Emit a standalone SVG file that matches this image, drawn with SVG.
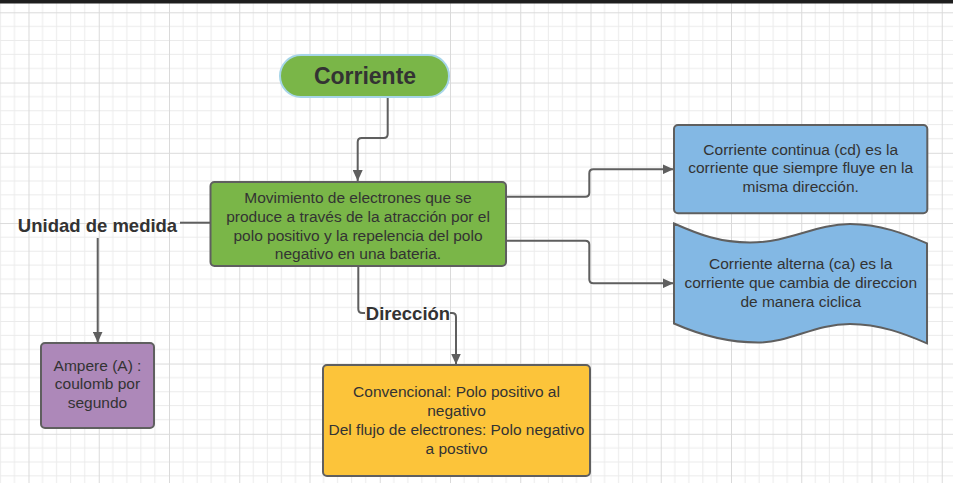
<svg xmlns="http://www.w3.org/2000/svg" width="953" height="483" viewBox="0 0 953 483">
<defs>
<pattern id="grid" patternUnits="userSpaceOnUse" x="28.5" y="12.3" width="70.25" height="70.25">
<path d="M14.05,0V70.25M28.1,0V70.25M42.15,0V70.25M56.2,0V70.25M0,14.05H70.25M0,28.1H70.25M0,42.15H70.25M0,56.2H70.25" stroke="#ebebeb" stroke-width="1" fill="none"/>
<path d="M0.5,0V70.25M0,0.5H70.25" stroke="#dadada" stroke-width="1" fill="none"/>
</pattern>
<marker id="arr" markerUnits="userSpaceOnUse" markerWidth="12" markerHeight="10" refX="11" refY="5" orient="auto">
<path d="M0,0L11,5L0,10Z" fill="#5f5f5f"/>
</marker>
<style>
.box{stroke:#5f5f5f;stroke-width:2}
.t{font-family:"Liberation Sans",Arial,sans-serif;font-size:15.5px;fill:#333333;text-anchor:middle}
.lbl{font-family:"Liberation Sans",Arial,sans-serif;font-size:18.5px;font-weight:bold;fill:#333333;text-anchor:middle}
.c{fill:none;stroke:#5f5f5f;stroke-width:2}
</style>
</defs>
<rect x="0" y="0" width="953" height="483" fill="#ffffff"/>
<rect x="0" y="0" width="953" height="483" fill="url(#grid)"/>
<rect x="0" y="0" width="953" height="3.5" fill="#1e1e1e"/>

<g id="connectors">
<path class="c" d="M387.7,97V134Q387.7,138 383.7,138H361.7Q357.7,138 357.7,142V181" marker-end="url(#arr)"/>
<path class="c" d="M506,196.7H585.3Q589.3,196.7 589.3,192.7V173.3Q589.3,169.3 593.3,169.3H673.5" marker-end="url(#arr)"/>
<path class="c" d="M506,240.7H585.3Q589.3,240.7 589.3,244.7V279.3Q589.3,283.3 593.3,283.3H673.5" marker-end="url(#arr)"/>
<path class="c" d="M210,222.7H180"/>
<path class="c" d="M97.7,238V342.5" marker-end="url(#arr)"/>
<path class="c" d="M358.3,266V309Q358.3,313 362.3,313H365"/>
<path class="c" d="M450,313H452Q456,313 456,317V364.5" marker-end="url(#arr)"/>
<text class="lbl" x="97.5" y="231.5">Unidad de medida</text>
<text class="lbl" x="408" y="320">Dirección</text>
</g>

<g id="corriente">
<rect x="280" y="55" width="169" height="42" rx="21" fill="#7ab648" stroke="#a6d5e8" stroke-width="2"/>
<text x="365" y="83.5" font-family="Liberation Sans, Arial, sans-serif" font-size="23" font-weight="bold" fill="#333333" text-anchor="middle">Corriente</text>
</g>

<g id="movimiento">
<rect class="box" x="210.5" y="182" width="295.5" height="84" rx="4" fill="#7ab648"/>
<text class="t" x="358" y="203">Movimiento de electrones que se</text>
<text class="t" x="358" y="221.8">produce a través de la atracción por el</text>
<text class="t" x="358" y="240.5">polo positivo y la repelencia del polo</text>
<text class="t" x="358" y="259">negativo en una bateria.</text>
</g>

<g id="continua">
<rect class="box" x="674" y="125" width="253.3" height="88.3" rx="4" fill="#83b8e4"/>
<text class="t" x="800.7" y="154.5">Corriente continua (cd) es la</text>
<text class="t" x="800.7" y="173">corriente que siempre fluye en la</text>
<text class="t" x="800.7" y="191.5">misma dirección.</text>
</g>

<g id="alterna">
<path class="box" fill="#83b8e4" d="M674,223.5C700,235 720,242.5 750,242.5C790,242.5 815,224 850,224C880,224 905,234 927,243.3V343.3C905,334 880,324 850,324C815,324 790,342.5 758,342.5C728,342.5 700,335 674,323.5Z"/>
<text class="t" x="800.7" y="269">Corriente alterna (ca) es la</text>
<text class="t" x="800.7" y="288.3">corriente que cambia de direccion</text>
<text class="t" x="800.7" y="307">de manera ciclica</text>
</g>

<g id="ampere">
<rect class="box" x="41" y="343" width="113" height="85" rx="4" fill="#ad88b9"/>
<text class="t" x="97.5" y="370.5">Ampere (A) :</text>
<text class="t" x="97.5" y="389">coulomb por</text>
<text class="t" x="97.5" y="408">segundo</text>
</g>

<g id="direccion">
<rect class="box" x="323" y="365" width="267" height="111" rx="4" fill="#fcc43a"/>
<text class="t" x="456.5" y="397">Convencional: Polo positivo al</text>
<text class="t" x="456.5" y="416">negativo</text>
<text class="t" x="456.5" y="435">Del flujo de electrones: Polo negativo</text>
<text class="t" x="456.5" y="454">a postivo</text>
</g>
</svg>
